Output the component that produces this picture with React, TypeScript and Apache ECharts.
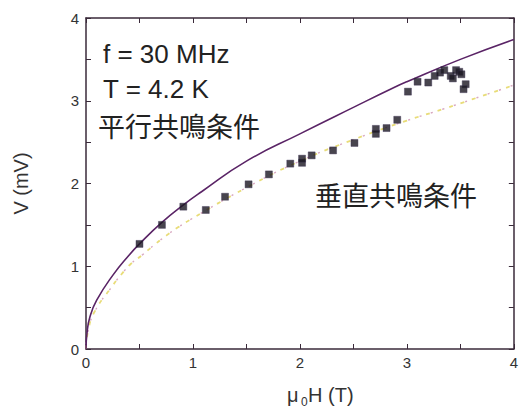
import React, { useEffect, useRef } from "react";
import * as echarts from "echarts";

const curveH = [0, 0.01, 0.037, 0.1, 0.25, 0.4, 0.5, 0.71, 0.92, 1.08, 1.5, 2.0, 2.5, 2.88, 3.0, 3.5, 4.0];
const curveV = [0, 0.2, 0.39, 0.59, 0.89, 1.13, 1.27, 1.53, 1.75, 1.9, 2.27, 2.6, 2.92, 3.16, 3.23, 3.5, 3.74];

const dotH = [0, 0.02, 0.08, 0.24, 0.33, 0.42, 0.53, 0.64, 0.75, 0.86, 0.97, 1.5, 2.0, 2.5, 3.0, 3.34, 3.89, 4.0];
const dotV = [0, 0.22, 0.45, 0.75, 0.9, 1.03, 1.14, 1.26, 1.37, 1.47, 1.56, 1.95, 2.27, 2.53, 2.76, 2.9, 3.14, 3.19];

const pointH = [0.5, 0.71, 0.91, 1.12, 1.3, 1.52, 1.71, 1.91, 2.02, 2.02, 2.11, 2.31, 2.51, 2.71, 2.71, 2.81, 2.91, 3.01, 3.1, 3.2, 3.26, 3.31, 3.35, 3.41, 3.43, 3.46, 3.49, 3.51, 3.55, 3.53];
const pointV = [1.27, 1.5, 1.72, 1.68, 1.84, 1.99, 2.11, 2.24, 2.25, 2.3, 2.34, 2.4, 2.49, 2.66, 2.6, 2.67, 2.77, 3.11, 3.23, 3.22, 3.3, 3.34, 3.37, 3.3, 3.27, 3.37, 3.35, 3.32, 3.2, 3.14];

const tickLabels = ["0", "1", "2", "3", "4"];

const annotations = ["f = 30 MHz", "T = 4.2 K", "平行共鳴条件", "垂直共鳴条件"];

export default function App() {
  const ref = useRef<HTMLDivElement>(null);
  useEffect(() => {
    if (!ref.current) return;
    const chart = echarts.init(ref.current, undefined, { renderer: "svg" });
    const axisColor = "#3a2a3a";
    const fmt = (v: number) => (Number.isInteger(v) ? tickLabels[v] ?? String(v) : "");
    const baseAxis = {
      min: 0,
      max: 4,
      interval: 0.5,
      splitLine: { show: false },
      axisLine: { show: true, onZero: false, lineStyle: { color: axisColor, width: 1.5 } },
      axisTick: { show: true, inside: true, length: 5, lineStyle: { color: axisColor, width: 1 } },
    };
    const cjk = '"Noto Sans CJK JP", "Noto Sans", sans-serif';
    const latin = '"Liberation Sans", Arial, sans-serif';
    chart.setOption({
      animation: false,
      backgroundColor: "#ffffff",
      grid: { left: 86, top: 18, width: 435, height: 331, containLabel: false },
      xAxis: [
        {
          ...baseAxis,
          type: "value",
          position: "bottom",
          axisLabel: { formatter: fmt, color: "#333", fontSize: 15, fontFamily: latin, margin: 6, showMaxLabel: true },
        },
        {
          ...baseAxis,
          type: "value",
          position: "top",
          axisLabel: { show: false },
        },
      ],
      yAxis: [
        {
          ...baseAxis,
          type: "value",
          position: "left",
          name: "V (mV)",
          nameLocation: "middle",
          nameGap: 55,
          nameRotate: 90,
          nameTextStyle: { color: "#333", fontSize: 20, fontFamily: latin },
          axisLabel: { formatter: fmt, color: "#333", fontSize: 15, fontFamily: latin, margin: 7 },
        },
        {
          ...baseAxis,
          type: "value",
          position: "right",
          axisLabel: { show: false },
        },
      ],
      series: [
        {
          type: "line",
          data: dotH.map((h, i) => [h, dotV[i]]),
          smooth: true,
          symbol: "none",
          lineStyle: { color: "#e8dc78", width: 1.8, type: [4, 8] },
          z: 2,
        },
        {
          type: "line",
          data: dotH.map((h, i) => [h, dotV[i]]),
          smooth: true,
          symbol: "none",
          lineStyle: { color: "#d8a8c0", width: 1.4, type: [2, 10], dashOffset: 7 },
          z: 2,
        },
        {
          type: "line",
          data: curveH.map((h, i) => [h, curveV[i]]),
          smooth: true,
          symbol: "none",
          lineStyle: { color: "#5a2466", width: 1.6 },
          z: 3,
        },
        {
          type: "scatter",
          data: pointH.map((h, i) => [h, pointV[i]]),
          symbol: "rect",
          symbolSize: 7,
          itemStyle: { color: "#1a1622", borderColor: "#3a3050", borderWidth: 0.5 },
          z: 4,
        },
      ],
      graphic: [
        { type: "text", left: 103, top: 41, style: { text: annotations[0], font: `26px ${latin}`, fill: "#222" } },
        { type: "text", left: 103, top: 76, style: { text: annotations[1], font: `26px ${latin}`, fill: "#222" } },
        { type: "text", left: 98, top: 112, style: { text: annotations[2], font: `27px ${cjk}`, fill: "#222" } },
        { type: "text", left: 315, top: 181, style: { text: annotations[3], font: `27px ${cjk}`, fill: "#222" } },
        { type: "text", left: 287, top: 385, style: { text: "μ", font: `20px ${latin}`, fill: "#333" } },
        { type: "text", left: 301, top: 396, style: { text: "0", font: `12px ${latin}`, fill: "#333" } },
        { type: "text", left: 308, top: 385, style: { text: "H (T)", font: `20px ${latin}`, fill: "#333" } },
      ],
    });
    return () => chart.dispose();
  }, []);
  return <div ref={ref} style={{ position: "fixed", left: 0, top: 0, width: 521, height: 408 }} />;
}
